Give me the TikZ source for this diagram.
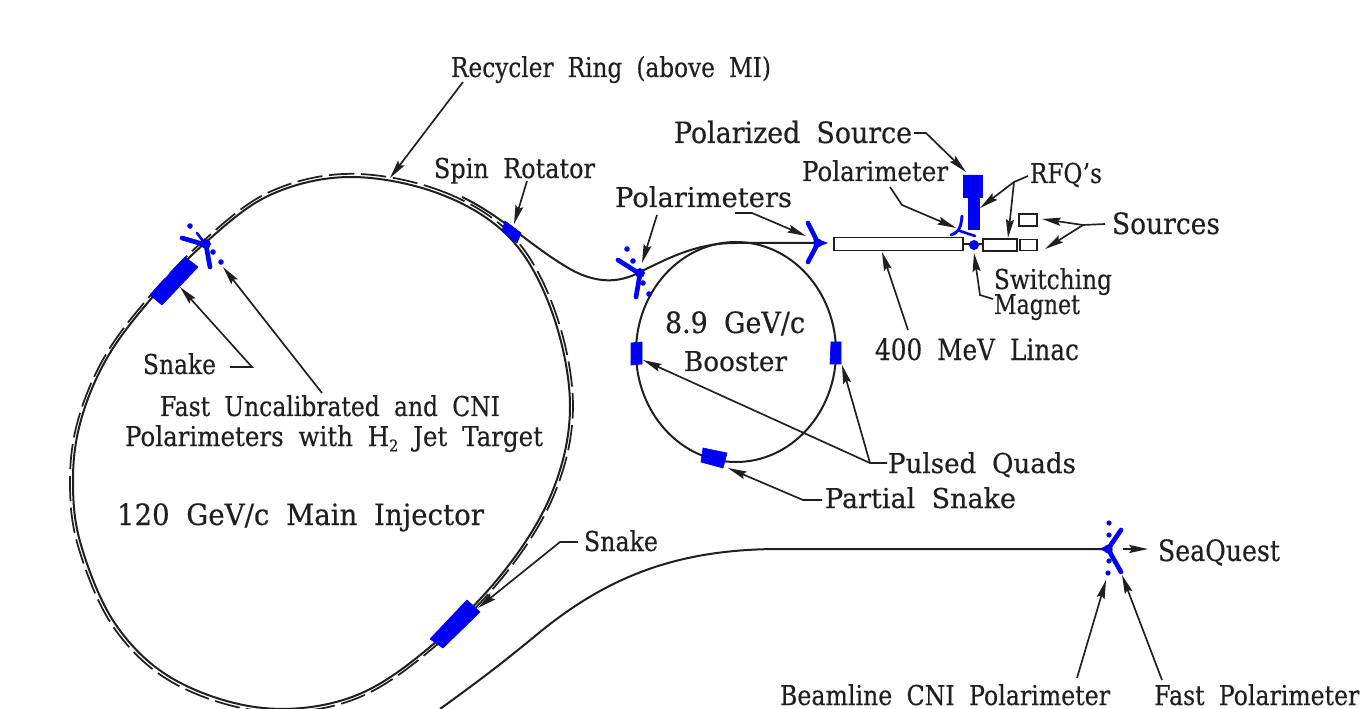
\documentclass[tikz,border=0pt]{standalone}
\usepackage{graphicx}
\usepackage{fontspec}
\setmainfont{DejaVu Serif}[WordSpace=1.9,FakeBold=0.4]
\usetikzlibrary{arrows.meta}
\definecolor{inkc}{gray}{0.12}
\definecolor{beamblue}{RGB}{0,0,245}
\newcommand\smalltxt{\fontsize{20.5}{22}\selectfont}
\newcommand\bigtxt{\fontsize{22}{24}\selectfont}
\newcommand\fitw[2]{\resizebox*{\dimexpr #1pt*3/4\relax}{\totalheight}{#2}}
\newcommand\ringcurve{plot[smooth cycle,tension=0.6] coordinates {(350,177)(440,194)(510,238)(552,312)(570,405)(553,490)(505,570)(430,647)(352,697)(263,708)(175,680)(116,625)(81,545)(73,480)(81,420)(107,358)(150,300)(205,243)(270,195)}}
\tikzset{
  ln/.style={draw=inkc,line width=1.5pt},
  conn/.style={draw=inkc,line width=1.25pt,-{Stealth[length=14pt,width=6pt,inset=2pt]}},
  lbl/.style={anchor=base,inner sep=0pt,text=inkc},
  bl/.style={fill=beamblue,draw=beamblue,line width=0.5pt},
  blline/.style={draw=beamblue,line width=3.5pt,line cap=round},
  bldot/.style={fill=beamblue,draw=none},
  boxc/.style={draw=inkc,line width=1.4pt,fill=white}
}
\begin{document}
\begin{tikzpicture}[x=0.75pt,y=-0.75pt]
\clip (0,0) rectangle (1361,709);
\fill[white] (0,0) rectangle (1361,709);
% rings and beam lines
\draw[ln] \ringcurve;
\begin{scope}[shift={(322,442)},scale=1.012,shift={(-322,-442)}]
\draw[draw=inkc,line width=1.3pt,dash pattern=on 19pt off 5pt] \ringcurve;
\end{scope}
\draw[ln] (736,352) ellipse [x radius=100,y radius=110];
\coordinate (spinA) at (462,197);
\draw[ln] (spinA) .. controls (500,215) and (530,245) .. (565,266) .. controls (595,285) and (620,283) .. (640,272) .. controls (665,260) and (695,243) .. (735,243) -- (815,243);
\draw[ln] (440,709) .. controls (480,680) and (500,665) .. (540,632) .. controls (610,575) and (680,549) .. (780,549) -- (1105,549);
% boxes
\node[boxc,minimum width=129*0.75pt,minimum height=13*0.75pt,inner sep=0pt] (linac) at (898.5,244) {};
\node[boxc,minimum width=34*0.75pt,minimum height=12*0.75pt,inner sep=0pt] (rfqa) at (1000,245) {};
\node[boxc,minimum width=17*0.75pt,minimum height=11*0.75pt,inner sep=0pt] (srca) at (1028.5,245) {};
\node[boxc,minimum width=18*0.75pt,minimum height=12*0.75pt,inner sep=0pt] (srcb) at (1028,220) {};
\draw[ln] (963,244) -- (983,244);
% blue parts
\fill[bl] (150,295) -- (185,257) -- (198,267) -- (162,305) -- cycle;
\fill[bl] (467,600) -- (480,612) -- (443,648) -- (430,639) -- cycle;
\fill[bl] (505,221) -- (502,231) -- (517,243) -- (521,233) -- cycle;
\fill[bl] (631,343) -- (642,342) -- (642,364) -- (631,365) -- cycle;
\fill[bl] (831,342) -- (841,342) -- (841,364) -- (830,364) -- cycle;
\fill[bl] (703,448) -- (701,462) -- (723,468) -- (727,453) -- cycle;
\fill[bl] (963,175) -- (982,175) -- (982,197) -- (979,197) -- (979,229) -- (968,229) -- (968,197) -- (963,197) -- cycle;
\draw[blline,line width=2.2pt] (951,235) .. controls (957,233) and (961,230) .. (962,216);
\draw[blline,line width=2pt] (960,231) -- (975,236);
\fill[bldot] (974,245) circle (5);
% polarimeter glyph, upper left
\draw[blline] (182,238) -- (206,245) -- (210,267);
\draw[blline,line width=2pt] (197,233) -- (206,245);
\fill[bl] (206,244) circle (4.5);
\foreach \p in {(190,226),(221,262),(213,252)} \fill[bldot] \p circle (2.8);
% polarimeter glyph, by booster
\draw[blline] (618,260) -- (640,274) -- (636,297);
\fill[bl] (640,273) circle (4.5);
\foreach \p in {(627,249),(633,261),(643,283),(649,294)} \fill[bldot] \p circle (2.8);
% polarimeter glyph, linac
\draw[blline] (808,223) -- (818,243) -- (808,262);
\fill[bl] (818,243) circle (4);
\fill[bl] (814,238) -- (827,243) -- (814,248) -- cycle;
% polarimeter glyph, SeaQuest
\draw[blline] (1121,530) -- (1108,549) -- (1121,572);
\fill[bl] (1108,549) circle (4);
\fill[bl] (1112,544) -- (1100,549) -- (1112,554) -- cycle;
\foreach \p in {(1109,523),(1109,535),(1109,561),(1108,573)} \fill[bldot] \p circle (2.6);
% labels
\node[lbl] (recycler) at (611,77) {\smalltxt\fitw{320}{Recycler Ring (above MI)}};
\node[lbl] (spin) at (514.5,178) {\smalltxt\fitw{161}{Spin Rotator}};
\node[lbl] (polsrc) at (793,143) {\bigtxt\fitw{238}{Polarized Source}};
\node[lbl] (polm) at (875,181) {\smalltxt\fitw{146}{Polarimeter}};
\node[lbl] (rfq) at (1066,183) {\smalltxt\fitw{72}{RFQ's}};
\node[lbl] (polms) at (703.5,207) {\smalltxt\fitw{177}{Polarimeters}};
\node[lbl] (sources) at (1166,234) {\bigtxt\fitw{108}{Sources}};
\node[lbl] (switching) at (1053,289) {\smalltxt\fitw{118}{Switching}};
\node[lbl] (magnet) at (1037,314) {\smalltxt\fitw{86}{Magnet}};
\node[lbl] (linactxt) at (977,360) {\bigtxt\fitw{204}{400 MeV Linac}};
\node[lbl] (boosterE) at (735,333) {\bigtxt\fitw{140}{8.9 GeV/c}};
\node[lbl] (booster) at (735.5,371) {\smalltxt\fitw{103}{Booster}};
\node[lbl] (snakeA) at (179.5,374) {\smalltxt\fitw{73}{Snake}};
\node[lbl] (fastA) at (330,416) {\smalltxt\fitw{340}{Fast Uncalibrated and CNI}};
\node[lbl] (fastB) at (334,446) {\smalltxt\fitw{418}{Polarimeters with H\raisebox{-4pt}{\fontsize{12}{13}\selectfont 2} Jet Target}};
\node[lbl] (mi) at (300.5,525) {\bigtxt\fitw{367}{120 GeV/c Main Injector}};
\node[lbl] (pulsed) at (982,473) {\smalltxt\fitw{188}{Pulsed Quads}};
\node[lbl] (partial) at (920.5,508) {\smalltxt\fitw{191}{Partial Snake}};
\node[lbl] (snakeB) at (621,551) {\smalltxt\fitw{74}{Snake}};
\node[lbl] (seaquest) at (1219,561) {\bigtxt\fitw{122}{SeaQuest}};
\node[lbl] (beamcni) at (945,705) {\smalltxt\fitw{330}{Beamline CNI Polarimeter}};
\node[lbl,anchor=base west] (fastpol) at (1154,705) {\smalltxt\fitw{205}{Fast Polarimeter}};
% connector ends
\coordinate (recS) at (463,82); \coordinate (recE) at (390,178);
\coordinate (spinS) at (527,181); \coordinate (spinE) at (514,224);
\coordinate (pmlS) at (657,215); \coordinate (pmlE) at (642,263);
\coordinate (pmrS) at (735,213); \coordinate (pmrM) at (752,213); \coordinate (pmrE) at (806,236);
\coordinate (psS) at (914,133); \coordinate (psM) at (926,133); \coordinate (psE) at (966,172);
\coordinate (pmS) at (890,187); \coordinate (pmM) at (902,205); \coordinate (pmE) at (956,228);
\coordinate (rfS) at (1028,176); \coordinate (rfM) at (1014,182); \coordinate (rfA) at (980,208); \coordinate (rfB) at (1008,238);
\coordinate (soS) at (1105,224); \coordinate (soM) at (1083,225); \coordinate (soA) at (1042,219); \coordinate (soB) at (1045,249);
\coordinate (swS) at (993,299); \coordinate (swM) at (980,295); \coordinate (swE) at (974,253);
\coordinate (liS) at (908,330); \coordinate (liE) at (882,252);
\coordinate (snS) at (230,367); \coordinate (snM) at (252,367); \coordinate (snE) at (180,287);
\coordinate (faS) at (322,393); \coordinate (faE) at (223,267);
\coordinate (sbS) at (578,542); \coordinate (sbM) at (560,542); \coordinate (sbE) at (478,608);
\coordinate (puS) at (887,463); \coordinate (puM) at (870,463); \coordinate (puA) at (643,360); \coordinate (puB) at (842,365);
\coordinate (paS) at (822,500); \coordinate (paM) at (803,500); \coordinate (paE) at (728,468);
\coordinate (seS) at (1123,549); \coordinate (seE) at (1148,549);
\coordinate (bcS) at (1077,678); \coordinate (bcE) at (1106,580);
\coordinate (fpS) at (1162,680); \coordinate (fpE) at (1122,575);
% connectors
\draw[conn] (recS) -- (recE);
\draw[conn] (spinS) -- (spinE);
\draw[conn] (pmlS) -- (pmlE);
\draw[conn] (pmrS) -- (pmrM) -- (pmrE);
\draw[conn] (psS) -- (psM) -- (psE);
\draw[conn] (pmS) -- (pmM) -- (pmE);
\draw[conn] (rfS) -- (rfM) -- (rfA);
\draw[conn] (rfM) -- (rfB);
\draw[conn] (soS) -- (soM) -- (soA);
\draw[conn] (soM) -- (soB);
\draw[conn] (swS) -- (swM) -- (swE);
\draw[conn] (liS) -- (liE);
\draw[conn] (snS) -- (snM) -- (snE);
\draw[conn] (faS) -- (faE);
\draw[conn] (sbS) -- (sbM) -- (sbE);
\draw[conn] (puS) -- (puM) -- (puA);
\draw[conn] (puM) -- (puB);
\draw[conn] (paS) -- (paM) -- (paE);
\draw[conn] (seS) -- (seE);
\draw[conn] (bcS) -- (bcE);
\draw[conn] (fpS) -- (fpE);
\end{tikzpicture}
\end{document}
